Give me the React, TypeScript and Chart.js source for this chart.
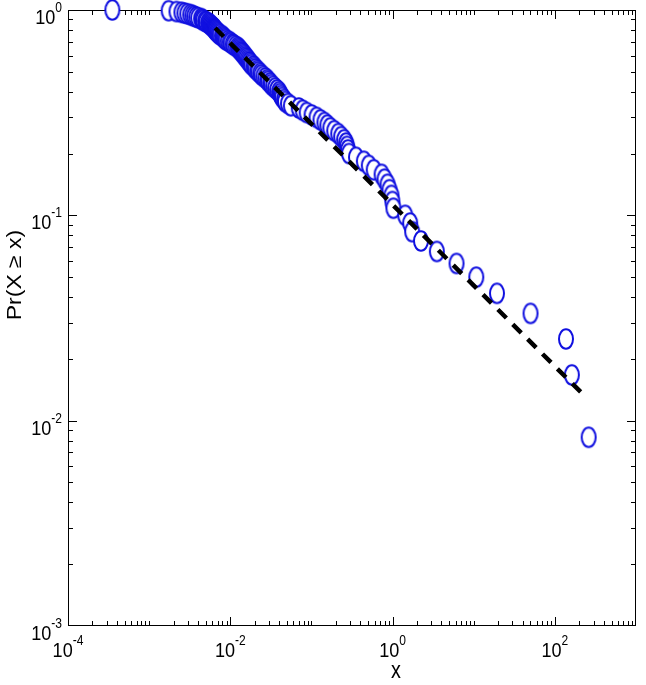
import { useEffect, useRef } from "react";
import { Chart, registerables } from "chart.js";

Chart.register(...registerables);

// Sorted sample values (x) and their empirical CCDF Pr(X >= x)
const xValues = [
  3.52e-4, 1.74e-3, 2.17e-3, 2.5e-3, 2.72e-3, 2.95e-3, 3.21e-3, 3.4e-3, 3.59e-3, 3.8e-3,
  4.02e-3, 4.37e-3, 4.5e-3, 4.62e-3, 4.89e-3, 5.03e-3, 5.32e-3, 5.47e-3, 5.62e-3, 5.78e-3,
  5.95e-3, 6.12e-3, 6.29e-3, 6.38e-3, 6.47e-3, 6.65e-3, 6.84e-3, 7.03e-3, 7.23e-3, 7.44e-3,
  7.87e-3, 8.09e-3, 8.32e-3, 8.56e-3, 8.8e-3, 9.31e-3, 9.84e-3, 1.012e-2, 1.07e-2, 1.1e-2,
  1.164e-2, 1.231e-2, 1.266e-2, 1.302e-2, 1.339e-2, 1.377e-2, 1.416e-2, 1.456e-2, 1.497e-2, 1.539e-2,
  1.58e-2, 1.63e-2, 1.675e-2, 1.72e-2, 1.77e-2, 1.82e-2, 1.93e-2, 1.98e-2, 2.04e-2, 2.15e-2,
  2.215e-2, 2.34e-2, 2.41e-2, 2.55e-2, 2.7e-2, 2.85e-2, 2.93e-2, 3.1e-2, 3.19e-2, 3.37e-2,
  3.56e-2, 3.77e-2, 3.99e-2, 4.1e-2, 4.22e-2, 4.34e-2, 4.59e-2, 4.72e-2, 5.13e-2, 5.58e-2,
  6.98e-2, 7.8e-2, 8.73e-2, 0.1004, 0.1155, 0.1292, 0.1445, 0.1571, 0.1709, 0.191,
  0.2138, 0.2324, 0.2527, 0.2673, 0.2749, 0.2827, 0.2906, 0.3537, 0.4424, 0.5088,
  0.5852, 0.732, 0.796, 0.866, 0.916, 0.969, 0.996, 1.024, 1.433, 1.648,
  1.743, 2.24, 3.51, 6.14, 10.75, 19.34, 50.1, 137, 162, 261,
];

const ccdfValues = [
  1.0, 0.9917, 0.9833, 0.975, 0.9667, 0.9583, 0.95, 0.9417, 0.9333, 0.925,
  0.9167, 0.9083, 0.9, 0.8917, 0.8833, 0.875, 0.8667, 0.8583, 0.85, 0.8417,
  0.8333, 0.825, 0.8167, 0.8083, 0.8, 0.7917, 0.7833, 0.775, 0.7667, 0.7583,
  0.75, 0.7417, 0.7333, 0.725, 0.7167, 0.7083, 0.7, 0.6917, 0.6833, 0.675,
  0.6667, 0.6583, 0.65, 0.6417, 0.6333, 0.625, 0.6167, 0.6083, 0.6, 0.5917,
  0.5833, 0.575, 0.5667, 0.5583, 0.55, 0.5417, 0.5333, 0.525, 0.5167, 0.5083,
  0.5, 0.4917, 0.4833, 0.475, 0.4667, 0.4583, 0.45, 0.4417, 0.4333, 0.425,
  0.4167, 0.4083, 0.4, 0.3917, 0.3833, 0.375, 0.3667, 0.3583, 0.35, 0.3417,
  0.3333, 0.325, 0.3167, 0.3083, 0.3, 0.2917, 0.2833, 0.275, 0.2667, 0.2583,
  0.25, 0.2417, 0.2333, 0.225, 0.2167, 0.2083, 0.2, 0.1917, 0.1833, 0.175,
  0.1667, 0.1583, 0.15, 0.1417, 0.1333, 0.125, 0.1167, 0.1083, 0.1, 0.0917,
  0.0833, 0.075, 0.0667, 0.0583, 0.05, 0.0417, 0.0333, 0.025, 0.0167, 0.0083,
];

// Power-law fit line (endpoints)
const fitX = [0.0065, 208];
const fitY = [0.817, 0.0138];

const xTickExponents = [-4, -2, 0, 2];
const yTickExponents = [0, -1, -2, -3];
const xAxisTitle = "x";
const yAxisTitle = "Pr(X \u2265 x)";

const X_MIN = 1e-4;
const X_MAX = 1e3;
const Y_MIN = 1e-3;
const Y_MAX = 1;

const FONT_FAMILY = '"Liberation Sans", Arial, Helvetica, sans-serif';
const BASE_FONT = 21;
const SUP_FONT = 14;
const TITLE_FONT = 23;
const SX = 0.86;
const MARKER_COLOR = "#1010e0";

function drawPower(
  ctx: CanvasRenderingContext2D,
  exp: number,
  x: number,
  baseY: number,
  supY: number,
  align: "center" | "right"
) {
  const base = "10";
  const sup = String(exp);
  ctx.font = `${BASE_FONT}px ${FONT_FAMILY}`;
  const wb = ctx.measureText(base).width * SX;
  ctx.font = `${SUP_FONT}px ${FONT_FAMILY}`;
  const ws = ctx.measureText(sup).width * SX;
  const total = wb + ws;
  const startX = align === "center" ? x - total / 2 : x - total;
  ctx.save();
  ctx.translate(startX, baseY);
  ctx.scale(SX, 1);
  ctx.font = `${BASE_FONT}px ${FONT_FAMILY}`;
  ctx.fillText(base, 0, 0);
  ctx.restore();
  ctx.save();
  ctx.translate(startX + wb, supY);
  ctx.scale(SX, 1);
  ctx.font = `${SUP_FONT}px ${FONT_FAMILY}`;
  ctx.fillText(sup, 0, 0);
  ctx.restore();
}

const axesPlugin = {
  id: "matlabAxes",
  beforeDatasetsDraw(chart: any) {
    const { ctx, chartArea, scales } = chart;
    const { left, right, top, bottom } = chartArea;
    const xs = scales.x;
    const ys = scales.y;
    ctx.save();
    ctx.strokeStyle = "#000";
    ctx.lineWidth = 1;
    ctx.strokeRect(left + 0.5, top + 0.5, right - left - 1, bottom - top - 1);

    const MAJOR = 9;
    const MINOR = 5;
    ctx.beginPath();
    for (let d = -4; d < 3; d++) {
      for (let m = 1; m <= 9; m++) {
        const v = m * Math.pow(10, d);
        if (v <= X_MIN * 1.0001 || v >= X_MAX * 0.9999) continue;
        const px = Math.round(xs.getPixelForValue(v)) + 0.5;
        const len = m === 1 && d % 2 === 0 ? MAJOR : MINOR;
        ctx.moveTo(px, bottom);
        ctx.lineTo(px, bottom - len);
        ctx.moveTo(px, top);
        ctx.lineTo(px, top + len);
      }
    }
    for (let d = -3; d < 0; d++) {
      for (let m = 1; m <= 9; m++) {
        const v = m * Math.pow(10, d);
        if (v <= Y_MIN * 1.0001 || v >= Y_MAX * 0.9999) continue;
        const py = Math.round(ys.getPixelForValue(v)) + 0.5;
        const len = m === 1 ? MAJOR : MINOR;
        ctx.moveTo(left, py);
        ctx.lineTo(left + len, py);
        ctx.moveTo(right, py);
        ctx.lineTo(right - len, py);
      }
    }
    ctx.stroke();

    ctx.fillStyle = "#000";
    ctx.textAlign = "left";
    ctx.textBaseline = "alphabetic";
    for (const e of xTickExponents) {
      const px = xs.getPixelForValue(Math.pow(10, e));
      drawPower(ctx, e, px, bottom + 31, bottom + 19, "center");
    }
    for (const e of yTickExponents) {
      const py = ys.getPixelForValue(Math.pow(10, e));
      drawPower(ctx, e, left - 6, py + 14, py + 2, "right");
    }

    ctx.font = `${TITLE_FONT}px ${FONT_FAMILY}`;
    ctx.save();
    ctx.translate(396, bottom + 52);
    ctx.scale(SX, 1);
    ctx.textAlign = "center";
    ctx.fillText(xAxisTitle, 0, 0);
    ctx.restore();

    ctx.save();
    ctx.translate(21, 275);
    ctx.scale(SX, 1);
    ctx.rotate(-Math.PI / 2);
    ctx.textAlign = "center";
    ctx.fillText(yAxisTitle, 0, 0);
    ctx.restore();

    ctx.restore();
  },
};

function makeMarker(): HTMLCanvasElement {
  const c = document.createElement("canvas");
  c.width = 18;
  c.height = 24;
  const g = c.getContext("2d")!;
  g.beginPath();
  g.ellipse(9, 12, 7, 9.8, 0, 0, Math.PI * 2);
  g.fillStyle = "#ffffff";
  g.fill();
  g.lineWidth = 2;
  g.strokeStyle = MARKER_COLOR;
  g.stroke();
  return c;
}

export default function App() {
  const ref = useRef<HTMLCanvasElement | null>(null);
  useEffect(() => {
    if (!ref.current) return;
    const marker = makeMarker();
    const chart = new Chart(ref.current, {
      type: "scatter",
      data: {
        datasets: [
          {
            label: "fit",
            data: fitX.map((v, i) => ({ x: v, y: fitY[i] })),
            showLine: true,
            borderColor: "#000000",
            borderWidth: 4.5,
            borderDash: [12, 9],
            pointRadius: 0,
            fill: false,
            order: 0,
            clip: false as any,
          },
          {
            label: "data",
            data: xValues.map((v, i) => ({ x: v, y: ccdfValues[i] })),
            pointStyle: marker as any,
            pointRadius: 9,
            borderColor: MARKER_COLOR,
            backgroundColor: "#ffffff",
            order: 1,
            clip: false as any,
          },
        ],
      },
      options: {
        animation: false,
        responsive: false,
        events: [],
        layout: { padding: { left: 68, top: 10, right: 2, bottom: 59 } },
        plugins: { legend: { display: false }, tooltip: { enabled: false } },
        scales: {
          x: { type: "logarithmic", min: X_MIN, max: X_MAX, display: false },
          y: { type: "logarithmic", min: Y_MIN, max: Y_MAX, display: false },
        },
      },
      plugins: [axesPlugin],
    });
    return () => chart.destroy();
  }, []);
  return (
    <div style={{ position: "absolute", left: 0, top: 0, width: 646, height: 685, background: "#fff" }}>
      <canvas ref={ref} width={646} height={685} style={{ display: "block" }} />
    </div>
  );
}
